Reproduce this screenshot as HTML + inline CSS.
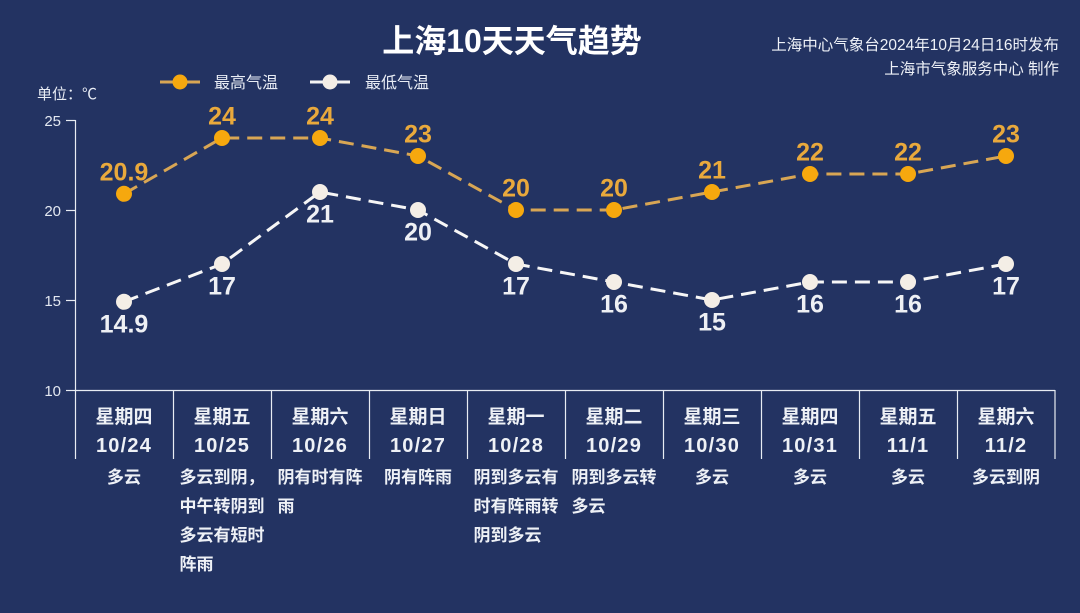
<!DOCTYPE html>
<html>
<head>
<meta charset="utf-8">
<style>
  html,body{margin:0;padding:0;background:#233362;}
  svg{display:block;}
  text{font-family:"Liberation Sans","Noto Sans CJK SC","WenQuanYi Zen Hei",sans-serif;}
</style>
</head>
<body>
<svg width="1080" height="613" viewBox="0 0 1080 613" xmlns="http://www.w3.org/2000/svg">
  <rect x="0" y="0" width="1080" height="613" fill="#233362"/>

  <!-- Title -->
  <text x="512" y="52" text-anchor="middle" font-size="32" font-weight="bold" fill="#ffffff">上海10天天气趋势</text>

  <!-- Right info -->
  <text x="1059" y="50" text-anchor="end" font-size="15.5" fill="#eef1f7">上海中心气象台2024年10月24日16时发布</text>
  <text x="1059" y="74" text-anchor="end" font-size="15.5" fill="#eef1f7">上海市气象服务中心 制作</text>

  <!-- Legend -->
  <line x1="160" y1="82" x2="200" y2="82" stroke="#d8a654" stroke-width="3"/>
  <circle cx="180" cy="82" r="7.5" fill="#f6a80e"/>
  <text x="214" y="88" font-size="16" fill="#e9edf5">最高气温</text>
  <line x1="310" y1="82" x2="350" y2="82" stroke="#f4f4f4" stroke-width="3"/>
  <circle cx="330" cy="82" r="7.5" fill="#f4eee6"/>
  <text x="365" y="88" font-size="16" fill="#e9edf5">最低气温</text>

  <!-- Unit -->
  <text x="37" y="99" font-size="15" fill="#e9edf5">单位：℃</text>

  <!-- Axes -->
  <g stroke="#e8ecf3" stroke-width="1.2">
    <line x1="75.5" y1="120" x2="75.5" y2="459"/>
    <line x1="66" y1="120.5" x2="75.5" y2="120.5"/>
    <line x1="66" y1="210.5" x2="75.5" y2="210.5"/>
    <line x1="66" y1="300.5" x2="75.5" y2="300.5"/>
    <line x1="66" y1="390.5" x2="75.5" y2="390.5"/>
    <line x1="75" y1="390.5" x2="1055" y2="390.5"/>
    <line x1="173.5" y1="390" x2="173.5" y2="459"/>
    <line x1="271.5" y1="390" x2="271.5" y2="459"/>
    <line x1="369.5" y1="390" x2="369.5" y2="459"/>
    <line x1="467.5" y1="390" x2="467.5" y2="459"/>
    <line x1="565.5" y1="390" x2="565.5" y2="459"/>
    <line x1="663.5" y1="390" x2="663.5" y2="459"/>
    <line x1="761.5" y1="390" x2="761.5" y2="459"/>
    <line x1="859.5" y1="390" x2="859.5" y2="459"/>
    <line x1="957.5" y1="390" x2="957.5" y2="459"/>
    <line x1="1055" y1="390" x2="1055" y2="459"/>
  </g>
  <g font-size="15" fill="#e3e8f1" text-anchor="end">
    <text x="61" y="126">25</text>
    <text x="61" y="216">20</text>
    <text x="61" y="306">15</text>
    <text x="61" y="396">10</text>
  </g>

  <!-- Max temp line -->
  <polyline points="124,193.8 222,138 320,138 418,156 516,210 614,210 712,192 810,174 908,174 1006,156"
        fill="none" stroke="#d8a654" stroke-width="3" stroke-dasharray="15 8" stroke-linejoin="round"/>
  <!-- Min temp line -->
  <polyline points="124,301.8 222,264 320,192 418,210 516,264 614,282 712,300 810,282 908,282 1006,264"
        fill="none" stroke="#f6f6f6" stroke-width="3" stroke-dasharray="15 8" stroke-linejoin="round"/>

  <!-- Max dots -->
  <g fill="#f6a80e">
    <circle cx="124" cy="193.8" r="8"/>
    <circle cx="222" cy="138" r="8"/>
    <circle cx="320" cy="138" r="8"/>
    <circle cx="418" cy="156" r="8"/>
    <circle cx="516" cy="210" r="8"/>
    <circle cx="614" cy="210" r="8"/>
    <circle cx="712" cy="192" r="8"/>
    <circle cx="810" cy="174" r="8"/>
    <circle cx="908" cy="174" r="8"/>
    <circle cx="1006" cy="156" r="8"/>
  </g>
  <!-- Min dots -->
  <g fill="#f4eee6">
    <circle cx="124" cy="301.8" r="8"/>
    <circle cx="222" cy="264" r="8"/>
    <circle cx="320" cy="192" r="8"/>
    <circle cx="418" cy="210" r="8"/>
    <circle cx="516" cy="264" r="8"/>
    <circle cx="614" cy="282" r="8"/>
    <circle cx="712" cy="300" r="8"/>
    <circle cx="810" cy="282" r="8"/>
    <circle cx="908" cy="282" r="8"/>
    <circle cx="1006" cy="264" r="8"/>
  </g>

  <!-- Max labels -->
  <g font-size="25" font-weight="bold" fill="#e9a93c" text-anchor="middle">
    <text x="124" y="180.5">20.9</text>
    <text x="222" y="124.7">24</text>
    <text x="320" y="124.7">24</text>
    <text x="418" y="142.7">23</text>
    <text x="516" y="196.7">20</text>
    <text x="614" y="196.7">20</text>
    <text x="712" y="178.7">21</text>
    <text x="810" y="160.7">22</text>
    <text x="908" y="160.7">22</text>
    <text x="1006" y="142.7">23</text>
  </g>
  <!-- Min labels -->
  <g font-size="25" font-weight="bold" fill="#eef0f4" text-anchor="middle">
    <text x="124" y="332.5">14.9</text>
    <text x="222" y="294.7">17</text>
    <text x="320" y="222.7">21</text>
    <text x="418" y="240.7">20</text>
    <text x="516" y="294.7">17</text>
    <text x="614" y="312.7">16</text>
    <text x="712" y="330.7">15</text>
    <text x="810" y="312.7">16</text>
    <text x="908" y="312.7">16</text>
    <text x="1006" y="294.7">17</text>
  </g>

  <!-- Day labels -->
  <g font-size="19" font-weight="bold" fill="#eef1f6" text-anchor="middle">
    <text x="124" y="423">星期四</text>
    <text x="222" y="423">星期五</text>
    <text x="320" y="423">星期六</text>
    <text x="418" y="423">星期日</text>
    <text x="516" y="423">星期一</text>
    <text x="614" y="423">星期二</text>
    <text x="712" y="423">星期三</text>
    <text x="810" y="423">星期四</text>
    <text x="908" y="423">星期五</text>
    <text x="1006" y="423">星期六</text>
  </g>
  <g font-size="20" font-weight="bold" fill="#eef1f6" text-anchor="middle" letter-spacing="1.2">
    <text x="124" y="452">10/24</text>
    <text x="222" y="452">10/25</text>
    <text x="320" y="452">10/26</text>
    <text x="418" y="452">10/27</text>
    <text x="516" y="452">10/28</text>
    <text x="614" y="452">10/29</text>
    <text x="712" y="452">10/30</text>
    <text x="810" y="452">10/31</text>
    <text x="908" y="452">11/1</text>
    <text x="1006" y="452">11/2</text>
  </g>

  <!-- Weather descriptions -->
  <g font-size="17" font-weight="bold" fill="#eef1f6">
    <text x="124" y="483" text-anchor="middle">多云</text>

    <text x="179.5" y="483">多云到阴，</text>
    <text x="179.5" y="512">中午转阴到</text>
    <text x="179.5" y="541">多云有短时</text>
    <text x="179.5" y="570">阵雨</text>

    <text x="277.5" y="483">阴有时有阵</text>
    <text x="277.5" y="512">雨</text>

    <text x="418" y="483" text-anchor="middle">阴有阵雨</text>

    <text x="473.5" y="483">阴到多云有</text>
    <text x="473.5" y="512">时有阵雨转</text>
    <text x="473.5" y="541">阴到多云</text>

    <text x="571.5" y="483">阴到多云转</text>
    <text x="571.5" y="512">多云</text>

    <text x="712" y="483" text-anchor="middle">多云</text>
    <text x="810" y="483" text-anchor="middle">多云</text>
    <text x="908" y="483" text-anchor="middle">多云</text>
    <text x="1006" y="483" text-anchor="middle">多云到阴</text>
  </g>
</svg>
</body>
</html>
